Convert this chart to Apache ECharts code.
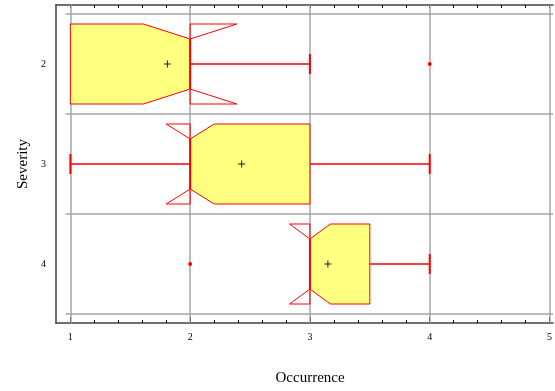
<!DOCTYPE html>
<html>
<head>
<meta charset="utf-8">
<script src="https://cdn.jsdelivr.net/npm/echarts@6/dist/echarts.min.js"></script>
<style>
html, body { margin: 0; padding: 0; background: #fff; }
#chart { width: 555px; height: 391px; }
</style>
</head>
<body>
<div id="chart"></div>
<script>
// values
var severity = [2, 3, 4]
var q1 = [1, 2, 3]
var median = [2, 2, 3]
var q3 = [2, 3, 3.5]
var notchLo = [1.61, 1.8, 2.83]
var notchHi = [2.39, 2.2, 3.17]
var whiskerLo = [1, 1, 3]
var whiskerHi = [3, 4, 4]
var means = [1.81, 2.43, 3.15]
var outlierX = [4, 2]
var outlierY = [2, 4]

// ticks / grid
var xTicks = [1, 2, 3, 4, 5]
var xMinorTicks = [1.2, 1.4, 1.6, 1.8, 2.2, 2.4, 2.6, 2.8, 3.2, 3.4, 3.6, 3.8, 4.2, 4.4, 4.6, 4.8]
var xAllTicks = [1, 1.2, 1.4, 1.6, 1.8, 2, 2.2, 2.4, 2.6, 2.8, 3, 3.2, 3.4, 3.6, 3.8, 4, 4.2, 4.4, 4.6, 4.8, 5]
var yTicks = [2, 3, 4]
var yGrid = [1.5, 2.5, 3.5, 4.5]

var RED = '#ff0000'
var FILL = '#ffff80'
var GRID = '#a6a6a6'
var AXIS = '#404040'
var FONT = '"Liberation Serif", "DejaVu Serif", serif'

var myChart = echarts.init(document.getElementById('chart'))

var boxData = severity.map(function (s, i) {
    return [s, q1[i], median[i], q3[i], notchLo[i], notchHi[i], whiskerLo[i], whiskerHi[i], means[i]]
})
var outlierData = outlierX.map(function (x, i) { return [x, outlierY[i]] })

function renderBox(params, api) {
    var s = api.value(0), lo = api.value(1), md = api.value(2), hi = api.value(3)
    var nl = api.value(4), nh = api.value(5), wl = api.value(6), wh = api.value(7), mn = api.value(8)
    var H = 0.4, N = 0.25, C = 0.1
    function pt(x, dy) { return api.coord([x, s + dy]) }
    // half height of the notched box at x
    function half(x) {
        if (x > nl && x < md) return H - (H - N) * (x - nl) / (md - nl)
        if (x >= md && x < nh) return N + (H - N) * (x - md) / (nh - md)
        return H
    }
    var xs = [lo, Math.max(nl, lo), md, Math.min(nh, hi), hi]
    var fillPts = []
    xs.forEach(function (x) { fillPts.push(pt(x, -half(x))) })
    xs.slice().reverse().forEach(function (x) { fillPts.push(pt(x, half(x))) })

    var outline = [pt(lo, -H), pt(nl, -H), pt(md, -N), pt(nh, -H), pt(hi, -H),
        pt(hi, H), pt(nh, H), pt(md, N), pt(nl, H), pt(lo, H)]

    var children = [
        { type: 'polygon', shape: { points: fillPts }, style: { fill: FILL, stroke: null } },
        { type: 'polygon', shape: { points: outline }, style: { fill: null, stroke: RED, lineWidth: 1 } },
        { type: 'line', shape: { x1: pt(md, -N)[0], y1: pt(md, -N)[1], x2: pt(md, N)[0], y2: pt(md, N)[1] },
            style: { stroke: RED, lineWidth: 2 } }
    ]
    function whisker(a, b) {
        var p1 = pt(a, 0), p2 = pt(b, 0)
        children.push({ type: 'line', shape: { x1: p1[0], y1: p1[1], x2: p2[0], y2: p2[1] },
            style: { stroke: RED, lineWidth: 1.5 } })
        var c1 = pt(b, -C), c2 = pt(b, C)
        children.push({ type: 'line', shape: { x1: c1[0], y1: c1[1], x2: c2[0], y2: c2[1] },
            style: { stroke: RED, lineWidth: 2 } })
    }
    if (wl < lo) whisker(lo, wl)
    if (wh > hi) whisker(hi, wh)

    // mean marker
    var m = pt(mn, 0)
    children.push({ type: 'line', shape: { x1: m[0] - 3.5, y1: m[1], x2: m[0] + 3.5, y2: m[1] },
        style: { stroke: '#1a1a40', lineWidth: 1 } })
    children.push({ type: 'line', shape: { x1: m[0], y1: m[1] - 3.5, x2: m[0], y2: m[1] + 3.5 },
        style: { stroke: '#1a1a40', lineWidth: 1 } })

    return { type: 'group', children: children }
}

var gridLines = xTicks.map(function (x) { return { xAxis: x } })
yGrid.forEach(function (y) {
    gridLines.push([{ coord: [0.96, y] }, { coord: [5.03, y] }])
})

var option = {
    animation: false,
    grid: { left: 56, top: 5, right: 0, bottom: 68 },
    xAxis: [
        {
            type: 'value', position: 'bottom', min: 0.88, max: 5.03,
            name: 'Occurrence', nameLocation: 'middle', nameGap: 48,
            nameTextStyle: { fontFamily: FONT, fontSize: 15, color: '#000', padding: [0, 0, 0, 11] },
            axisLine: { show: true, lineStyle: { color: AXIS, width: 1.5 } },
            axisTick: { show: true, inside: true, length: 6, customValues: xTicks, lineStyle: { color: '#000' } },
            axisLabel: { customValues: xTicks, fontFamily: FONT, fontSize: 10, color: '#000', margin: 9 },
            splitLine: { show: false }
        },
        {
            type: 'value', position: 'bottom', min: 0.88, max: 5.03,
            axisLine: { show: false },
            axisTick: { show: true, inside: true, length: 3, customValues: xMinorTicks, lineStyle: { color: '#000' } },
            axisLabel: { show: false },
            splitLine: { show: false }
        },
        {
            type: 'value', position: 'top', min: 0.88, max: 5.03,
            axisLine: { show: true, lineStyle: { color: AXIS, width: 1.5 } },
            axisTick: { show: true, inside: true, length: 3, customValues: xAllTicks, lineStyle: { color: '#000' } },
            axisLabel: { show: false },
            splitLine: { show: false }
        }
    ],
    yAxis: {
        type: 'value', inverse: true, min: 1.41, max: 4.59,
        name: 'Severity', nameLocation: 'middle', nameGap: 24, nameRotate: 90,
        nameTextStyle: { fontFamily: FONT, fontSize: 15, color: '#000' },
        axisLine: { show: true, lineStyle: { color: AXIS, width: 1.5 } },
        axisTick: { show: false },
        axisLabel: { customValues: yTicks, fontFamily: FONT, fontSize: 10, color: '#000', margin: 10 },
        splitLine: { show: false }
    },
    series: [
        {
            type: 'line', data: [], silent: true, z: 1,
            markLine: {
                silent: true, symbol: 'none', animation: false, z: 1,
                label: { show: false },
                lineStyle: { color: GRID, width: 1.5, type: 'solid' },
                emphasis: { disabled: true },
                data: gridLines
            }
        },
        {
            type: 'custom', renderItem: renderBox, data: boxData, silent: true, z: 3
        },
        {
            type: 'scatter', data: outlierData, symbol: 'circle', symbolSize: 4, silent: true, z: 10,
            itemStyle: { color: RED, opacity: 1 }
        }
    ]
}
option && myChart.setOption(option)
</script>
</body>
</html>
